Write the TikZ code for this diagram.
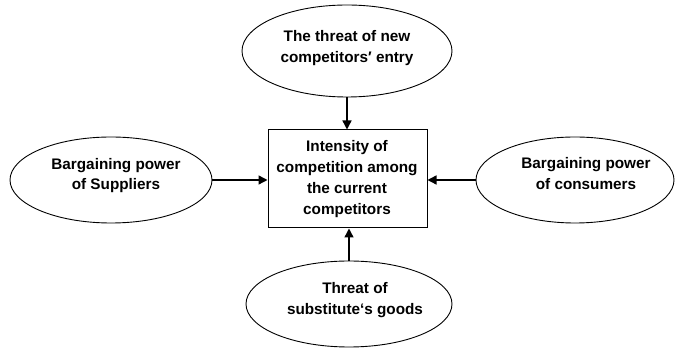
\documentclass[tikz,border=0pt]{standalone}
\usepackage{fontspec}
\setmainfont{Liberation Sans}
\usetikzlibrary{shapes.geometric,arrows.meta}
\begin{document}
\begin{tikzpicture}[x=1pt,y=1pt,
  ell/.style={draw,ellipse,line width=0.9pt,inner sep=0pt},
  box/.style={draw,rectangle,line width=1pt,inner sep=0pt},
  txt/.style={align=center,font=\bfseries\fontsize{15.3}{20.8}\selectfont,inner sep=0pt},
  arr/.style={line width=1.4pt,-{Triangle[length=9pt,width=9pt]}}]
\useasboundingbox (0,0) rectangle (675,348);
\node[ell,minimum width=210pt,minimum height=92pt] (top) at (347,297) {};
\node[ell,minimum width=202pt,minimum height=86pt] (left) at (111,168) {};
\node[ell,minimum width=198pt,minimum height=86pt] (right) at (575,168) {};
\node[ell,minimum width=206pt,minimum height=86pt] (bot) at (349,44) {};
\node[box,minimum width=159pt,minimum height=98pt] (mid) at (347.5,169) {};
\node[txt] (ttop) at (347,300) {The threat of new\\competitors′ entry};
\node[txt] (tleft) at (116,172.5) {Bargaining power\\of Suppliers};
\node[txt] (tright) at (586,174.5) {Bargaining power\\of consumers};
\node[txt] (tmid) at (347,169) {Intensity of\\competition among\\the current\\competitors};
\node[txt] (tbot) at (355,48) {Threat of\\substitute‘s goods};
\draw[arr] (top.south) -- (top.south |- mid.north);
\draw[arr] (left.east) -- (mid.west |- left.east);
\draw[arr] (right.west) -- (mid.east |- right.west);
\draw[arr] (bot.north) -- (bot.north |- mid.south);
\end{tikzpicture}
\end{document}
